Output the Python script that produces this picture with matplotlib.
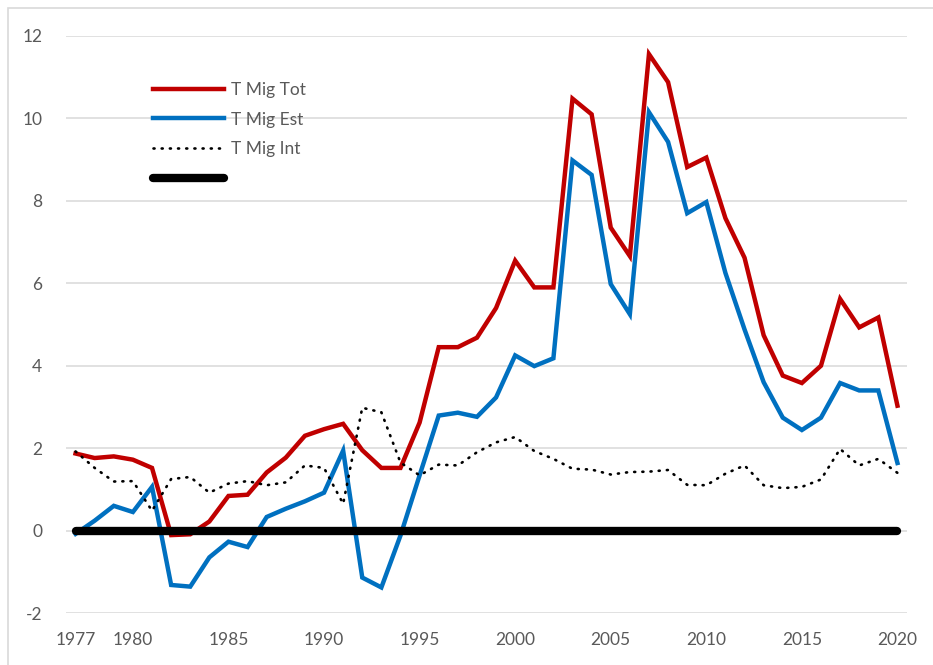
import matplotlib
matplotlib.use("Agg")
import matplotlib.pyplot as plt
from matplotlib.patches import Rectangle

years = list(range(1977, 2021))

t_mig_tot = [1.87, 1.76, 1.80, 1.72, 1.52, -0.11, -0.09, 0.22, 0.84, 0.87,
             1.41, 1.77, 2.30, 2.46, 2.59, 1.95, 1.52, 1.52, 2.62, 4.45,
             4.45, 4.68, 5.40, 6.55, 5.90, 5.90, 10.48, 10.10, 7.35, 6.66,
             11.56, 10.88, 8.82, 9.05, 7.58, 6.62, 4.74, 3.76, 3.58, 4.00,
             5.62, 4.93, 5.17, 3.03]

t_mig_est = [-0.08, 0.24, 0.60, 0.45, 1.06, -1.32, -1.36, -0.65, -0.27, -0.40,
             0.33, 0.53, 0.71, 0.92, 1.94, -1.14, -1.38, -0.12, 1.34, 2.79,
             2.86, 2.76, 3.23, 4.25, 3.99, 4.18, 8.98, 8.63, 5.98, 5.25,
             10.15, 9.43, 7.70, 7.97, 6.25, 4.88, 3.60, 2.74, 2.44, 2.74,
             3.58, 3.40, 3.40, 1.64]

t_mig_int = [1.92, 1.52, 1.19, 1.20, 0.48, 1.25, 1.30, 0.92, 1.14, 1.20,
             1.10, 1.17, 1.58, 1.52, 0.65, 2.98, 2.87, 1.65, 1.34, 1.60,
             1.58, 1.90, 2.14, 2.27, 1.93, 1.74, 1.50, 1.48, 1.36, 1.42,
             1.43, 1.47, 1.11, 1.10, 1.38, 1.58, 1.10, 1.03, 1.06, 1.24,
             1.98, 1.58, 1.74, 1.40]

zero_line = [0.0] * len(years)

series_labels = ["T Mig Tot", "T Mig Est", "T Mig Int", ""]
x_tick_years = [1977, 1980, 1985, 1990, 1995, 2000, 2005, 2010, 2015, 2020]
y_ticks = [-2, 0, 2, 4, 6, 8, 10, 12]

plt.rcParams['font.family'] = ['Lato', 'DejaVu Sans']

W, H = 933, 665
fig = plt.figure(figsize=(W / 100, H / 100), dpi=100)
fig.patch.set_facecolor("white")

# chart border (only left & top visible in the crop)
fig.patches.append(Rectangle((8 / W, -0.1), 1.5, 1 - 8 / H + 0.1,
                             transform=fig.transFigure, fill=False,
                             edgecolor="#d9d9d9", linewidth=1.2))

left, right = 66 / W, 907 / W
top, bottom = 1 - 36 / H, 1 - 613 / H
ax = fig.add_axes([left, bottom, right - left, top - bottom])
ax.set_facecolor("none")

text_color = "#595959"
fs = 12.5

ax.set_xlim(1976.5, 2020.5)
ax.set_ylim(-2, 12)
ax.set_yticks(y_ticks)
ax.set_yticklabels([str(v) for v in y_ticks])
ax.set_xticks(x_tick_years)
ax.set_xticklabels([str(v) for v in x_tick_years])
ax.tick_params(axis="both", length=0, colors=text_color, labelsize=fs)
ax.tick_params(axis="y", pad=17)
ax.tick_params(axis="x", pad=14)
for s in ax.spines.values():
    s.set_visible(False)
ax.yaxis.grid(True, color="#d9d9d9", linewidth=1.1)
ax.set_axisbelow(True)

l_tot, = ax.plot(years, t_mig_tot, color="#C00000", linewidth=3.2,
                 solid_joinstyle="miter", zorder=3)
l_est, = ax.plot(years, t_mig_est, color="#0070C0", linewidth=3.2,
                 solid_joinstyle="miter", zorder=3)
l_int, = ax.plot(years, t_mig_int, color="black", linewidth=1.9,
                 linestyle=(0, (0.4, 2.7)), dash_capstyle="round", zorder=4)
l_zero, = ax.plot(years, zero_line, color="black", linewidth=6.0,
                  solid_capstyle="round", zorder=5)

handles = [l_tot, l_est, l_int, l_zero]
ax_w, ax_h = 907 - 66, 613 - 36
leg = ax.legend(handles, series_labels, loc="upper left",
                bbox_to_anchor=(87 / ax_w, 1 - (82 - 36) / ax_h),
                frameon=False, handlelength=4.1, handletextpad=0.4,
                labelspacing=0.78, fontsize=fs, borderaxespad=0,
                borderpad=0)
for t in leg.get_texts():
    t.set_color(text_color)

fig.savefig("out.png", dpi=100, facecolor="white")
